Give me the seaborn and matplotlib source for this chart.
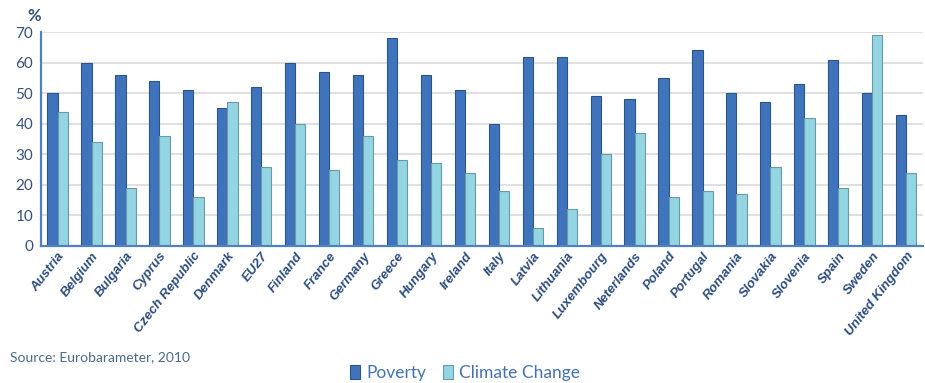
import matplotlib
matplotlib.use("Agg")
import matplotlib.pyplot as plt
import seaborn as sns
import pandas as pd
from matplotlib.ticker import FixedLocator

countries = ["Austria", "Belgium", "Bulgaria", "Cyprus", "Czech Republic", "Denmark",
             "EU27", "Finland", "France", "Germany", "Greece", "Hungary", "Ireland",
             "Italy", "Latvia", "Lithuania", "Luxembourg", "Neterlands", "Poland",
             "Portugal", "Romania", "Slovakia", "Slovenia", "Spain", "Sweden",
             "United Kingdom"]
poverty = [50, 60, 56, 54, 51, 45, 52, 60, 57, 56, 68, 56, 51, 40, 62, 62, 49, 48,
           55, 64, 50, 47, 53, 61, 50, 43]
climate = [44, 34, 19, 36, 16, 47, 26, 40, 25, 36, 28, 27, 24, 18, 6, 12, 30, 37,
           16, 18, 17, 26, 42, 19, 69, 24]
series_names = ["Poverty", "Climate Change"]
yticks = [0, 10, 20, 30, 40, 50, 60, 70]

df = pd.DataFrame({
    "country": countries * 2,
    "value": poverty + climate,
    "issue": [series_names[0]] * len(countries) + [series_names[1]] * len(countries),
})

sns.set_style("white")
plt.rcParams["font.family"] = ["Lato", "DejaVu Sans"]

navy = "#2B4C7E"
axis_blue = "#4F81BD"
palette = {"Poverty": "#3F74BC", "Climate Change": "#93D5E3"}

fig = plt.figure(figsize=(9.25, 3.83), dpi=100)
ax = fig.add_axes([0.044, 0.358, 0.954, 0.558])

sns.barplot(data=df, x="country", y="value", hue="issue", order=countries,
            hue_order=series_names, palette=palette, width=0.6, gap=0,
            saturation=1, edgecolor=None, linewidth=0, ax=ax, legend=True)

for bar in ax.patches:
    fc = bar.get_facecolor()
    edge = tuple(c * 0.72 for c in fc[:3]) + (1,)
    bar.set_edgecolor(edge)
    bar.set_linewidth(0.8)

ax.set_ylim(0, 70)
ax.set_xlim(-0.5, len(countries) - 0.5)
ax.set_yticks(yticks)
ax.set_xlabel("")
ax.set_ylabel("")
ax.yaxis.grid(True, color="#DADADA", linewidth=1.2)
ax.set_axisbelow(True)

for side in ["top", "right"]:
    ax.spines[side].set_visible(False)
for side in ["left", "bottom"]:
    ax.spines[side].set_color(axis_blue)
    ax.spines[side].set_linewidth(1.6)

ax.tick_params(axis="y", colors=axis_blue, length=5, width=1.2, direction="inout",
               labelcolor="#34507A", labelsize=11.5, pad=3)
ax.tick_params(axis="x", which="major", length=0, pad=3)
ax.xaxis.set_minor_locator(FixedLocator([i - 0.5 for i in range(len(countries) + 1)]))
ax.tick_params(axis="x", which="minor", length=5, width=1.2, color=axis_blue,
               direction="inout")

ax.set_xticks(range(len(countries)))
ax.set_xticklabels(countries, rotation=52, ha="right", rotation_mode="anchor",
                   fontsize=9.5, fontstyle="italic", fontweight="bold", color=navy,
                   family=["Liberation Sans", "DejaVu Sans"])
for lab in ax.get_yticklabels():
    lab.set_fontsize(11)

fig.text(0.030, 0.945, "%", fontsize=12, fontweight="bold", color="#34507A")
fig.text(0.011, 0.058, "Source: Eurobarameter, 2010", fontsize=10, color="#4A6A8F")

handles, labels = ax.get_legend_handles_labels()
ax.legend_.remove()
fig.legend(handles, labels, loc="lower center", bbox_to_anchor=(0.503, -0.035),
           ncol=2, frameon=False, fontsize=12.5, handlelength=0.55, handleheight=0.9,
           handletextpad=0.35, columnspacing=1.0, labelcolor="#4472B0")

fig.savefig("out.png", dpi=100)
